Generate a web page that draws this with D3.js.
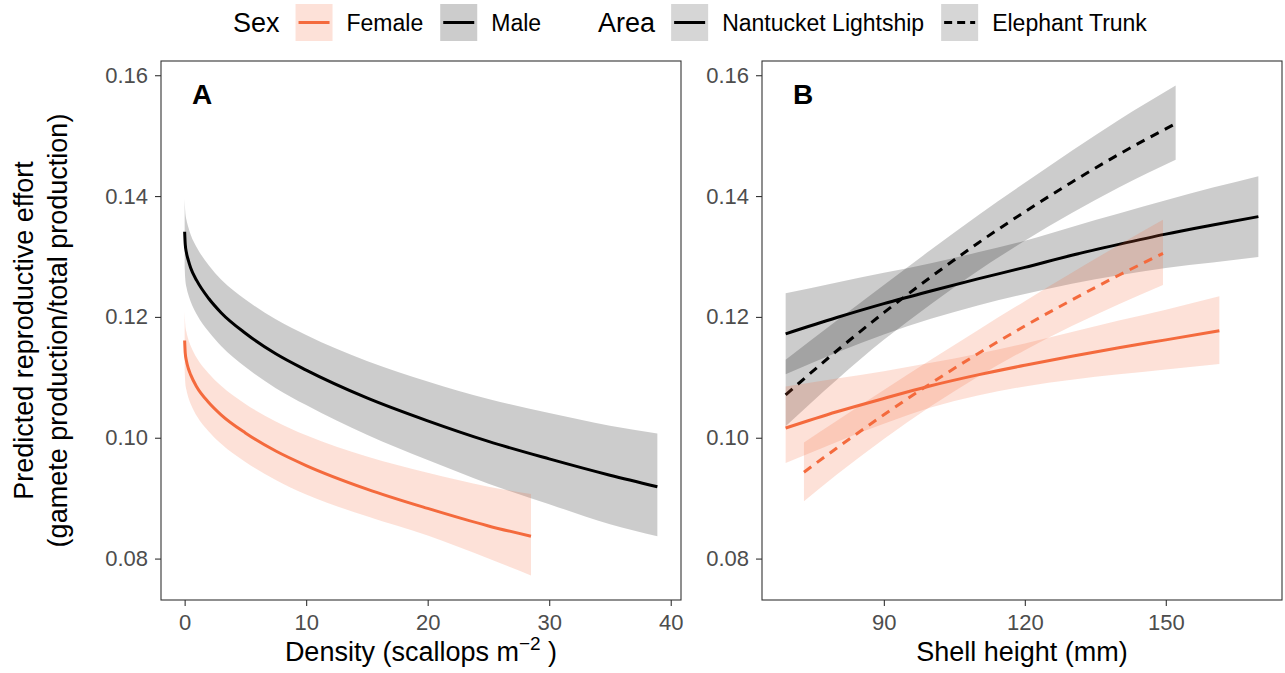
<!DOCTYPE html>
<html>
<head>
<meta charset="utf-8">
<script src="https://cdn.jsdelivr.net/npm/d3@7"></script>
<style>
  body { margin: 0; background: #fff; }
  svg { display: block; font-family: "Liberation Sans", Arial, sans-serif; }
</style>
</head>
<body>
<svg width="1285" height="673"></svg>
<script>
// ---- panel A : reproductive effort vs density ----
const densityMale   = [0, 0.05, 0.15, 0.3, 0.5, 1, 2, 3, 5, 7.5, 10, 15, 20, 25, 30, 35, 38.9];
const maleFitA      = [0.1341, 0.1320, 0.1306, 0.1294, 0.1281, 0.1260, 0.1230, 0.1207, 0.1173, 0.1139, 0.1112, 0.1066, 0.1028, 0.0994, 0.0965, 0.0938, 0.0919];
const maleHiA       = [0.1396, 0.1375, 0.1361, 0.1349, 0.1336, 0.1315, 0.1285, 0.1262, 0.1229, 0.1196, 0.1170, 0.1127, 0.1093, 0.1064, 0.1041, 0.1020, 0.1007];
const maleLoA       = [0.1283, 0.1263, 0.1249, 0.1237, 0.1225, 0.1204, 0.1175, 0.1152, 0.1117, 0.1082, 0.1054, 0.1005, 0.0963, 0.0924, 0.0890, 0.0857, 0.0837];

const densityFemale = [0, 0.05, 0.15, 0.3, 0.5, 1, 2, 3, 5, 7.5, 10, 15, 20, 25, 28.5];
const femaleFitA    = [0.1161, 0.1140, 0.1127, 0.1115, 0.1104, 0.1084, 0.1058, 0.1038, 0.1008, 0.0978, 0.0954, 0.0915, 0.0883, 0.0854, 0.0837];
const femaleHiA     = [0.1209, 0.1188, 0.1175, 0.1163, 0.1152, 0.1132, 0.1106, 0.1086, 0.1056, 0.1027, 0.1004, 0.0969, 0.0942, 0.0919, 0.0907];
const femaleLoA     = [0.1113, 0.1092, 0.1079, 0.1067, 0.1056, 0.1036, 0.1010, 0.0990, 0.0960, 0.0930, 0.0906, 0.0870, 0.0838, 0.0800, 0.0772];

// ---- panel B : reproductive effort vs shell height ----
const heightNLMale = [69.1, 80, 90, 100, 110, 120, 130, 140, 150, 160, 169.7];
const nlMaleFit    = [0.1172, 0.1199, 0.1222, 0.1243, 0.1263, 0.1282, 0.1302, 0.1320, 0.1337, 0.1352, 0.1366];
const nlMaleHi     = [0.1239, 0.1257, 0.1273, 0.1289, 0.1307, 0.1326, 0.1349, 0.1371, 0.1393, 0.1414, 0.1433];
const nlMaleLo     = [0.1105, 0.1141, 0.1171, 0.1197, 0.1219, 0.1238, 0.1255, 0.1269, 0.1281, 0.1290, 0.1299];

const heightETMale = [69.1, 80, 90, 100, 110, 120, 130, 140, 152.1];
const etMaleFit    = [0.1071, 0.1144, 0.1207, 0.1266, 0.1322, 0.1374, 0.1423, 0.1469, 0.1520];
const etMaleHi     = [0.1129, 0.1194, 0.1253, 0.1311, 0.1368, 0.1422, 0.1475, 0.1526, 0.1583];
const etMaleLo     = [0.1019, 0.1096, 0.1162, 0.1221, 0.1276, 0.1326, 0.1372, 0.1414, 0.1460];

const heightNLFemale = [69.1, 80, 90, 100, 110, 120, 130, 140, 150, 161.4];
const nlFemaleFit    = [0.1016, 0.1043, 0.1065, 0.1086, 0.1104, 0.1120, 0.1135, 0.1149, 0.1162, 0.1177];
const nlFemaleHi     = [0.1085, 0.1098, 0.1110, 0.1124, 0.1139, 0.1156, 0.1175, 0.1194, 0.1212, 0.1234];
const nlFemaleLo     = [0.0958, 0.0993, 0.1023, 0.1050, 0.1070, 0.1085, 0.1096, 0.1105, 0.1113, 0.1122];

const heightETFemale = [73.0, 80, 90, 100, 110, 120, 130, 140, 149.4];
const etFemaleFit    = [0.0943, 0.0983, 0.1038, 0.1090, 0.1139, 0.1185, 0.1228, 0.1269, 0.1305];
const etFemaleHi     = [0.0992, 0.1028, 0.1079, 0.1129, 0.1178, 0.1226, 0.1273, 0.1319, 0.1361];
const etFemaleLo     = [0.0895, 0.0939, 0.0998, 0.1052, 0.1101, 0.1145, 0.1185, 0.1221, 0.1253];

// ticks + labels
const yTicks  = [0.08, 0.10, 0.12, 0.14, 0.16];
const xTicksA = [0, 10, 20, 30, 40];
const xTicksB = [90, 120, 150];
const sexLabels  = ["Female", "Male"];
const areaLabels = ["Nantucket Lightship", "Elephant Trunk"];

const orange = "#F46A3D";
const svg = d3.select("svg");

const panelTop = 61, panelBottom = 600;
const panA = {left: 161, right: 681};
const panB = {left: 762, right: 1282};

// ggplot style 5% expansion
function expand(ext) {
  const s = (ext[1] - ext[0]) * 0.05;
  return [ext[0] - s, ext[1] + s];
}

const allY = [].concat(maleHiA, maleLoA, femaleHiA, femaleLoA, nlMaleHi, nlMaleLo,
                       etMaleHi, etMaleLo, nlFemaleHi, nlFemaleLo, etFemaleHi, etFemaleLo);
const y = d3.scaleLinear().domain(expand(d3.extent(allY))).range([panelBottom, panelTop]);
const xA = d3.scaleLinear().domain(expand(d3.extent(densityMale.concat(densityFemale)))).range([panA.left, panA.right]);
const xB = d3.scaleLinear()
  .domain(expand(d3.extent([].concat(heightNLMale, heightETMale, heightNLFemale, heightETFemale))))
  .range([panB.left, panB.right]);

function makeRows(xs, fit, lo, hi) {
  return xs.map((d, i) => ({x: d, fit: fit[i], lo: lo[i], hi: hi[i]}));
}

function drawSeries(g, x, rows, color, dash) {
  const area = d3.area().x(d => x(d.x)).y0(d => y(d.lo)).y1(d => y(d.hi)).curve(d3.curveMonotoneX);
  const line = d3.line().x(d => x(d.x)).y(d => y(d.fit)).curve(d3.curveMonotoneX);
  g.append("path").datum(rows).attr("d", area).attr("fill", color).attr("fill-opacity", 0.2);
  g.append("path").datum(rows).attr("d", line)
    .attr("fill", "none").attr("stroke", color).attr("stroke-width", 3)
    .attr("stroke-dasharray", dash ? "9,7" : null);
}

function drawPanel(x, pan, xTicks, label, title) {
  const g = svg.append("g");

  const yAxis = g.append("g").attr("transform", `translate(${pan.left},0)`)
    .call(d3.axisLeft(y).tickValues(yTicks).tickFormat(d3.format(".2f")).tickSize(6).tickPadding(7));
  const xAxis = g.append("g").attr("transform", `translate(0,${panelBottom})`)
    .call(d3.axisBottom(x).tickValues(xTicks).tickSize(6).tickPadding(8));
  [yAxis, xAxis].forEach(a => {
    a.select(".domain").remove();
    a.selectAll(".tick line").attr("stroke", "#333").attr("stroke-width", 1.1);
    a.selectAll(".tick text").attr("fill", "#4D4D4D").style("font-size", "22px");
  });

  g.append("text").attr("x", pan.left + 31).attr("y", 104)
    .style("font-size", "28px").style("font-weight", "bold").text(label);

  title(g.append("text").attr("x", (pan.left + pan.right) / 2).attr("y", 661)
    .attr("text-anchor", "middle").style("font-size", "27px"));
  return g;
}

const gA = drawPanel(xA, panA, xTicksA, "A", t => {
  t.append("tspan").text("Density (scallops m");
  t.append("tspan").attr("dy", -11).style("font-size", "19px").text("\u22122");
  t.append("tspan").attr("dy", 11).text(" )");
});
const gB = drawPanel(xB, panB, xTicksB, "B", t => t.text("Shell height (mm)"));

// males first, females painted over them
drawSeries(gA, xA, makeRows(densityMale, maleFitA, maleLoA, maleHiA), "#000", false);
drawSeries(gA, xA, makeRows(densityFemale, femaleFitA, femaleLoA, femaleHiA), orange, false);

drawSeries(gB, xB, makeRows(heightNLMale, nlMaleFit, nlMaleLo, nlMaleHi), "#000", false);
drawSeries(gB, xB, makeRows(heightETMale, etMaleFit, etMaleLo, etMaleHi), "#000", true);
drawSeries(gB, xB, makeRows(heightNLFemale, nlFemaleFit, nlFemaleLo, nlFemaleHi), orange, false);
drawSeries(gB, xB, makeRows(heightETFemale, etFemaleFit, etFemaleLo, etFemaleHi), orange, true);

// panel borders on top
[panA, panB].forEach(p => {
  svg.append("rect").attr("x", p.left).attr("y", panelTop)
    .attr("width", p.right - p.left).attr("height", panelBottom - panelTop)
    .attr("fill", "none").attr("stroke", "#333").attr("stroke-width", 1.1);
});

// y axis title, two lines
const yt = svg.append("text").attr("transform", `translate(0,${(panelTop + panelBottom) / 2}) rotate(-90)`)
  .attr("text-anchor", "middle").style("font-size", "27px");
yt.append("tspan").attr("x", 0).attr("y", 33).text("Predicted reproductive effort");
yt.append("tspan").attr("x", 0).attr("y", 67).text("(gamete production/total production)");

// legend across the top
const leg = svg.append("g");
let lx = 233;
const keyW = 37, keyTop = 4, keyMid = 22.5;

function legTitle(txt) {
  const t = leg.append("text").attr("x", lx).attr("y", 32).style("font-size", "27px").text(txt);
  lx += t.node().getComputedTextLength() + 16;
}
function legItem(txt, fill, color, dash) {
  leg.append("rect").attr("x", lx).attr("y", keyTop).attr("width", keyW).attr("height", keyW).attr("fill", fill);
  leg.append("line").attr("x1", lx + 3).attr("x2", lx + keyW - 3).attr("y1", keyMid).attr("y2", keyMid)
    .attr("stroke", color).attr("stroke-width", 3).attr("stroke-dasharray", dash ? "8,5" : null);
  const t = leg.append("text").attr("x", lx + keyW + 14).attr("y", 30.5).style("font-size", "23px").text(txt);
  lx += keyW + 14 + t.node().getComputedTextLength() + 17;
}

legTitle("Sex");
legItem(sexLabels[0], "#FDE1D8", orange, false);
legItem(sexLabels[1], "#CCCCCC", "#000", false);
lx += 40;
legTitle("Area");
legItem(areaLabels[0], "#D6D6D6", "#000", false);
legItem(areaLabels[1], "#D6D6D6", "#000", true);
</script>
</body>
</html>
